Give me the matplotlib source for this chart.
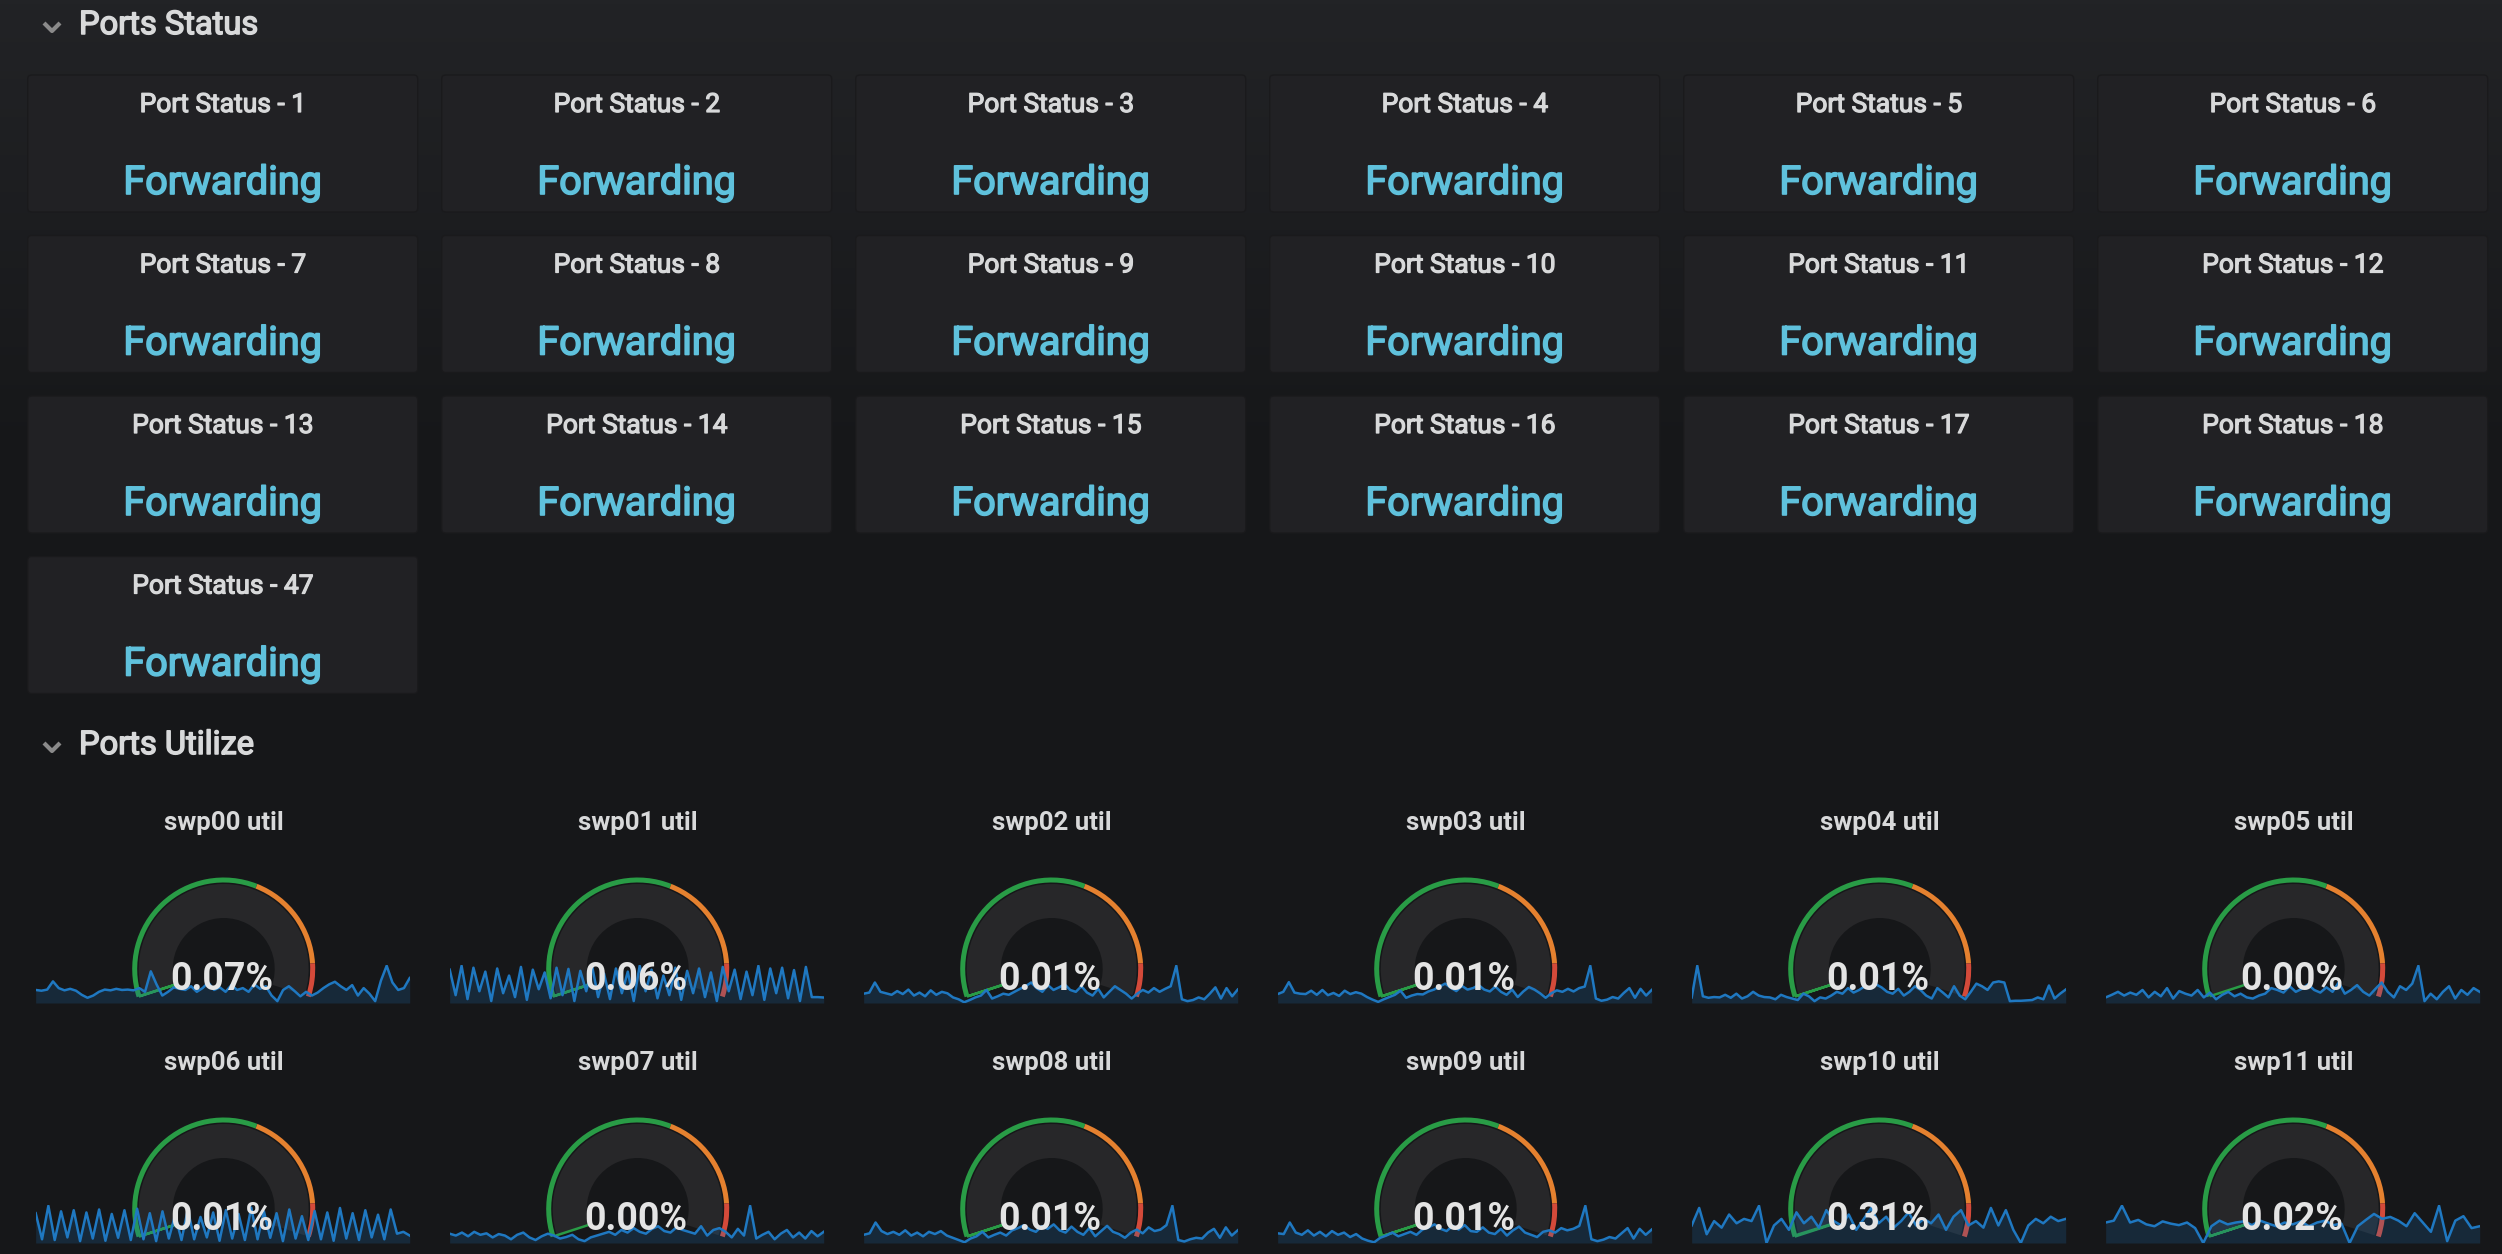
import matplotlib.pyplot as plt
from matplotlib.patches import FancyBboxPatch, Wedge
import matplotlib.patheffects as pe
import numpy as np

plt.rcParams['font.family'] = ['Roboto', 'DejaVu Sans']

W, H = 2502, 1254

# ---- data ----
status_ports = [1, 2, 3, 4, 5, 6, 7, 8, 9, 10, 11, 12, 13, 14, 15, 16, 17, 18, 47]
status_text = 'Forwarding'

util_names = ['swp00', 'swp01', 'swp02', 'swp03', 'swp04', 'swp05',
              'swp06', 'swp07', 'swp08', 'swp09', 'swp10', 'swp11']
util_values = [0.07, 0.06, 0.01, 0.01, 0.01, 0.00,
               0.01, 0.00, 0.01, 0.01, 0.31, 0.02]
gauge_max = 100
thresholds = [60, 90]

swp00 = [35, 33, 36, 58, 40, 34, 38, 33, 22, 14, 20, 30, 36, 34, 38, 35, 36, 34, 40, 30,
         85, 50, 20, 30, 42, 38, 35, 45, 30, 40, 55, 35, 42, 30, 48, 35, 40, 30, 50, 38,
         45, 20, 5, 35, 45, 32, 18, 30, 20, 28, 40, 50, 57, 45, 35, 48, 20, 40, 25, 5,
         60, 100, 55, 35, 40, 67]
swp01 = [85, 20, 95, 10, 90, 30, 80, 5, 88, 25, 70, 15, 92, 8, 85, 35, 78, 12, 90, 20,
         87, 5, 82, 30, 93, 15, 75, 10, 88, 25, 80, 5, 95, 30, 85, 12, 70, 20, 90, 8,
         82, 25, 88, 15, 78, 5, 92, 30, 85, 10, 80, 20, 95, 8, 88, 25, 90, 12, 84, 5,
         92, 15, 15, 14]
swp02 = [25, 28, 55, 30, 26, 22, 32, 24, 36, 20, 28, 18, 34, 22, 30, 26, 15, 10, 2, 8,
         15, 20, 35, 12, 18, 25, 22, 30, 38, 45, 55, 40, 30, 48, 35, 42, 50, 35, 30, 45,
         28, 20, 38, 15, 30, 45, 35, 25, 12, 25, 35, 28, 40, 30, 38, 45, 100, 10, 5, 8,
         15, 10, 25, 42, 12, 40, 18, 36]
swp03 = [24, 30, 56, 28, 25, 24, 33, 22, 35, 21, 27, 19, 33, 24, 29, 25, 16, 9, 3, 10,
         16, 22, 33, 14, 20, 24, 23, 31, 36, 44, 52, 41, 32, 46, 36, 40, 48, 36, 31, 44,
         30, 22, 36, 16, 31, 43, 36, 26, 14, 26, 34, 30, 38, 31, 40, 44, 100, 12, 6, 9,
         16, 12, 27, 40, 14, 38, 20, 35]
swp04 = [15, 100, 18, 14, 16, 15, 22, 14, 25, 12, 18, 30, 20, 16, 15, 10, 22, 16, 12, 8,
         25, 18, 5, 15, 12, 20, 30, 25, 40, 28, 35, 45, 38, 50, 42, 30, 25, 38, 20, 30,
         45, 35, 20, 12, 40, 28, 15, 45, 20, 10, 30, 52, 45, 35, 55, 58, 55, 5, 6, 6,
         7, 8, 15, 10, 47, 12, 25, 36]
swp05 = [15, 22, 30, 20, 28, 22, 35, 15, 30, 18, 40, 12, 32, 25, 20, 35, 15, 28, 10, 22,
         30, 18, 25, 15, 12, 20, 25, 40, 35, 28, 45, 30, 38, 50, 35, 28, 42, 30, 55, 25,
         35, 48, 30, 20, 38, 55, 30, 15, 45, 35, 52, 100, 5, 25, 10, 30, 45, 12, 35, 22,
         40, 30]
swp06 = [80, 10, 100, 8, 85, 15, 88, 5, 82, 12, 90, 6, 78, 14, 88, 8, 92, 10, 80, 5,
         85, 12, 75, 8, 90, 10, 70, 15, 82, 6, 88, 12, 78, 8, 95, 10, 85, 14, 80, 5,
         90, 12, 72, 8, 86, 10, 82, 6, 94, 12, 80, 8, 88, 15, 76, 10, 90, 25, 30, 20]
swp07 = [25, 20, 28, 18, 30, 22, 26, 15, 24, 20, 10, 22, 28, 15, 8, 18, 25, 20, 12, 16,
         22, 10, 5, 15, 20, 25, 30, 22, 35, 28, 40, 30, 25, 38, 45, 32, 28, 42, 35, 30,
         25, 45, 20, 35, 40, 30, 15, 38, 20, 100, 12, 22, 30, 10, 25, 35, 15, 28, 12, 32,
         18, 30]
swp08 = [22, 26, 55, 32, 24, 30, 22, 34, 20, 28, 18, 30, 24, 32, 20, 14, 8, 2, 12, 18,
         30, 15, 22, 28, 20, 34, 40, 48, 36, 30, 45, 38, 50, 34, 28, 44, 30, 22, 40, 18,
         32, 46, 30, 24, 14, 28, 36, 26, 42, 32, 36, 48, 100, 8, 4, 10, 14, 12, 28, 38,
         14, 42, 20, 34]
swp09 = [26, 24, 55, 28, 22, 34, 20, 30, 18, 32, 22, 28, 16, 24, 12, 6, 2, 14, 20, 28,
         18, 24, 30, 22, 36, 42, 50, 38, 32, 46, 36, 48, 32, 30, 42, 28, 24, 38, 20, 34,
         44, 28, 22, 16, 30, 34, 28, 40, 34, 38, 46, 100, 10, 5, 9, 16, 12, 26, 40, 12,
         38, 22, 36]
swp10 = [40, 80, 20, 50, 35, 65, 45, 55, 50, 85, 0, 40, 55, 30, 70, 45, 60, 35, 75, 50,
         40, 65, 30, 55, 80, 45, 60, 35, 50, 70, 40, 55, 45, 65, 30, 60, 75, 40, 50, 35,
         80, 40, 75, 30, 0, 40, 55, 45, 60, 50, 55]
swp11 = [55, 60, 100, 55, 62, 50, 45, 58, 52, 48, 55, 40, 0, 45, 60, 50, 55, 58, 48, 60,
         52, 45, 55, 50, 58, 45, 55, 60, 48, 52, 0, 45, 62, 78, 65, 70, 60, 45, 80, 55,
         30, 100, 5, 60, 72, 40, 45]
sparklines = [swp00, swp01, swp02, swp03, swp04, swp05,
              swp06, swp07, swp08, swp09, swp10, swp11]

# ---- colours / layout ----
page_bg = '#161719'
panel_bg = '#212124'
text_col = '#d8d9da'
value_col = '#5fc1dc'
green, orange, red = '#299c46', '#e5812f', '#d44a3a'
gauge_bg = '#272729'
line_col = '#1f78c1'
fill_col = (31 / 255, 118 / 255, 189 / 255, 0.2)

col_x0, col_dx, panel_w = 27.7, 414, 390
row_y0, row_dy, panel_h = 75, 160.5, 137


def frac(x, y, w, h):
    return [x / W, 1 - (y + h) / H, w / W, h / H]


def medium(colr, w=0.9):
    # fake a medium weight with a thin outline of the same colour
    return [pe.withStroke(linewidth=w, foreground=colr)]


fig = plt.figure(figsize=(W / 100, H / 100), dpi=100)
fig.patch.set_facecolor(page_bg)
bg = fig.add_axes([0, 0, 1, 1])
bg.set_xlim(0, W)
bg.set_ylim(H, 0)
bg.axis('off')

# soft gradient at the top of the page
top = np.array([0x22, 0x23, 0x26]) / 255
bot = np.array([0x16, 0x17, 0x19]) / 255
t = np.clip(np.linspace(0, H, 300) / 460, 0, 1)[:, None]
grad = (top * (1 - t) + bot * t)[:, None, :]
bg.imshow(grad, extent=[0, W, H, 0], aspect='auto', zorder=0)


def header(y_base, label):
    bg.plot([44, 52, 60], [y_base - 11, y_base - 3, y_base - 11], color='#8a8a8a',
            lw=3, solid_capstyle='butt', zorder=2)
    bg.text(79, y_base, label, color=text_col, fontsize=23.5,
            va='baseline', ha='left', zorder=2, path_effects=medium(text_col, 1.1))


header(34, 'Ports Status')
header(754, 'Ports Utilize')

# ---- status panels ----
for k, port in enumerate(status_ports):
    c, r = k % 6, k // 6
    x = col_x0 + c * col_dx
    y = row_y0 + r * row_dy
    bg.add_patch(FancyBboxPatch((x, y), panel_w, panel_h,
                                boxstyle='round,pad=0,rounding_size=4',
                                fc=panel_bg, ec='#1a1a1c', lw=1, zorder=1))
    cx = x + panel_w / 2
    bg.text(cx, y + 37, f'Port Status - {port}', color=text_col, fontsize=19,
            ha='center', va='baseline', zorder=2, path_effects=medium(text_col))
    bg.text(cx, y + 119, status_text, color=value_col, fontsize=28.5,
            ha='center', va='baseline', zorder=2, path_effects=medium(value_col, 1.2))

# ---- utilisation gauges ----
start_ang, span = 198, 216
gauge_cy = [969, 1209]
title_base = [830, 1070]
box = 96

for k, name in enumerate(util_names):
    c, r = k % 6, k // 6
    x = col_x0 + c * col_dx
    cx = x + panel_w / 2 + 1
    cy = gauge_cy[r]

    fig.text(cx / W, 1 - title_base[r] / H, f'{name} util', color=text_col,
             fontsize=18.5, fontweight='bold', ha='center', va='baseline')

    ax = fig.add_axes(frac(cx - box, cy - box, 2 * box, 2 * box))
    ax.set_xlim(-box, box)
    ax.set_ylim(-box, box)
    ax.axis('off')
    ax.add_patch(Wedge((0, 0), 85, start_ang - span, start_ang, width=34, fc=gauge_bg, lw=0))
    edges = [0] + thresholds + [gauge_max]
    for lo, hi, colr in zip(edges[:-1], edges[1:], [green, orange, red]):
        a1 = start_ang - span * hi / gauge_max
        a2 = start_ang - span * lo / gauge_max
        ax.add_patch(Wedge((0, 0), 91.5, a1, a2, width=5, fc=colr, lw=0))
    v = util_values[k]
    ax.add_patch(Wedge((0, 0), 88, start_ang - span * v / gauge_max, start_ang,
                       width=36, fc=green, ec=green, lw=1.8))

    vals = sparklines[k]
    sb = cy + 34
    sp = fig.add_axes(frac(x + 8, sb - 38, 374, 38))
    sp.patch.set_alpha(0)
    sp.axis('off')
    xs = np.arange(len(vals))
    sp.fill_between(xs, vals, 0, color=fill_col, lw=0)
    sp.plot(xs, vals, color=line_col, lw=1.8)
    sp.set_xlim(0, len(vals) - 1)
    sp.set_ylim(0, max(vals) * 1.02)

    fig.text((cx - 2) / W, 1 - (cy + 21) / H, f'{v:.2f}%', color='#e4e4e4',
             fontsize=27, fontweight='bold', ha='center', va='baseline')

fig.savefig('out.png', dpi=100, facecolor=page_bg)
